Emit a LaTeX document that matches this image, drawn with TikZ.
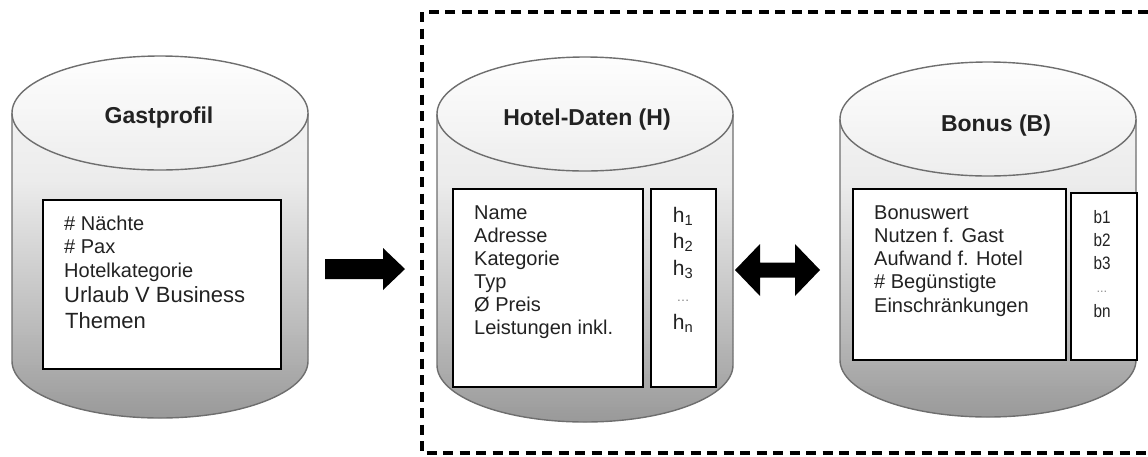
\documentclass[tikz,border=0pt]{standalone}
\usepackage{fontspec}
\setmainfont{Liberation Sans}
\usepackage{graphicx}
\definecolor{txt}{HTML}{222222}
\definecolor{cylline}{HTML}{6E6E6E}
% cylinder: #1 = centre x, #2 = centre y of top ellipse, #3 = centre y of bottom ellipse
\newcommand\dbcyl[3]{%
  \begin{scope}
    \clip (#1-148,#2) -- (#1-148,#3)
      arc[start angle=180, end angle=0, x radius=148, y radius=57]
      -- (#1+148,#2)
      arc[start angle=0, end angle=-180, x radius=148, y radius=57] -- cycle;
    \foreach \yy in {50,53,...,431} {
      \pgfmathsetmacro\cyt{max(0,min(1,(\yy-(#2-57))/(#3-#2+114)))}
      \pgfmathsetmacro\cyp{\cyt<0.34 ? 6+9*\cyt/0.34 : (\cyt<0.76 ? 15+40*(\cyt-0.34)/0.42 : 55+25*(\cyt-0.76)/0.24)}
      \fill[gray!\cyp] (#1-150,\yy) rectangle (#1+150,\yy+3.6);
    }
  \end{scope}
  \draw[cylline, line width=1.4pt] (#1-148,#2) -- (#1-148,#3)
      arc[start angle=180, end angle=0, x radius=148, y radius=57]
      -- (#1+148,#2);
  \begin{scope}
    \clip (#1,#2) ellipse[x radius=148, y radius=57];
    \foreach \yy in {0,3,...,117} {
      \pgfmathsetmacro\cyp{1+13*\yy/117}
      \fill[gray!\cyp] (#1-150,#2-58+\yy) rectangle (#1+150,#2-58+\yy+3.6);
    }
  \end{scope}
  \draw[cylline, line width=1.4pt] (#1,#2) ellipse[x radius=148, y radius=57];
}
\tikzset{
  cyltitle/.style={anchor=base, inner sep=0pt, text=txt, font=\bfseries\fontsize{23}{27}\selectfont},
  ibox/.style={draw=black, line width=1.8pt, fill=white, anchor=north west, inner sep=0pt},
  lt/.style={anchor=base west, inner sep=0pt, text=txt, font=\fontsize{20}{24}\selectfont},
  ltbig/.style={anchor=base west, inner sep=0pt, text=txt, font=\fontsize{22}{26}\selectfont},
  hval/.style={anchor=base, inner sep=0pt, text=txt, font=\fontsize{21}{25}\selectfont},
  bval/.style={anchor=base, inner sep=0pt, text=txt, font=\fontsize{18}{22}\selectfont},
  dots/.style={anchor=base, inner sep=0pt, text=gray, font=\fontsize{13}{15}\selectfont},
  dashbox/.style={draw=black, line width=3.2pt, dash pattern=on 10pt off 6.5pt},
  blockarrow/.style={fill=black}
}
\begin{document}
\begin{tikzpicture}[x=1pt, y=-1pt]
\useasboundingbox (0,0) rectangle (1148,456);
% dashed frame
\draw[dashbox] (1148,12) -- (422,12) -- (422,453) -- (1148,453);
% cylinders
\dbcyl{160}{113}{361}
\dbcyl{585}{114}{365}
\dbcyl{988}{119}{360}
% titles
\node[cyltitle] (gtitle) at (159,123) {Gastprofil};
\node[cyltitle] (htitle) at (587,125) {Hotel-Daten (H)};
\node[cyltitle] (btitle) at (996,131) {Bonus (B)};
% inner boxes
\node[ibox, minimum width=238pt, minimum height=169pt] (gbox) at (42,199) {};
\node[ibox, minimum width=190pt, minimum height=198pt] (hbox) at (452,188) {};
\node[ibox, minimum width=65pt, minimum height=198pt] (hidx) at (650,188) {};
\node[ibox, minimum width=213pt, minimum height=171pt] (bbox) at (852,188) {};
\node[ibox, minimum width=66pt, minimum height=167pt] (bidx) at (1070,192) {};
% Gastprofil text
\node[lt] (g1) at (64,230) {\# Nächte};
\node[lt] (g2) at (64,253) {\# Pax};
\node[lt] (g3) at (64,277) {Hotelkategorie};
\node[ltbig] (g4) at (64,302) {Urlaub V Business};
\node[ltbig] (g5) at (65,328) {Themen};
% Hotel text
\node[lt] (h1) at (474,219) {Name};
\node[lt] (h2) at (474,242) {Adresse};
\node[lt] (h3) at (474,265) {Kategorie};
\node[lt] (h4) at (474,288) {Typ};
\node[lt] (h5) at (474,311) {Ø Preis};
\node[lt] (h6) at (474,334) {Leistungen inkl.};
\node[hval] (hv1) at (683,222) {h\textsubscript{1}};
\node[hval] (hv2) at (683,248) {h\textsubscript{2}};
\node[hval] (hv3) at (683,275) {h\textsubscript{3}};
\node[dots] (hv4) at (683,301) {…};
\node[hval] (hv5) at (683,329) {h\textsubscript{n}};
% Bonus text
\node[lt] (b1) at (874,219) {Bonuswert};
\node[lt] (b2) at (874,242) {Nutzen f. Gast};
\node[lt] (b3) at (874,265) {Aufwand f. Hotel};
\node[lt] (b4) at (874,288) {\# Begünstigte};
\node[lt] (b5) at (874,312) {Einschränkungen};
\node[bval] (bv1) at (1102,223) {\scalebox{0.85}[1]{b1}};
\node[bval] (bv2) at (1102,246) {\scalebox{0.85}[1]{b2}};
\node[bval] (bv3) at (1102,269) {\scalebox{0.85}[1]{b3}};
\node[dots] (bv4) at (1102,292) {\scalebox{0.85}[1]{…}};
\node[bval] (bv5) at (1102,317) {\scalebox{0.85}[1]{bn}};
% block arrows
\coordinate (a1s) at (325,269);
\coordinate (a1e) at (405,269);
\fill[blockarrow] (a1s) ++(0,-10) -- ++(58,0) -- ++(0,-11) -- (a1e)
  -- ++(-22,21) -- ++(0,-11) -- ++(-58,0) -- cycle;
\coordinate (a2s) at (735,270);
\coordinate (a2e) at (820,270);
\fill[blockarrow] (a2s) -- ++(25,-26) -- ++(0,18.5) -- ++(35,0) -- ++(0,-18.5)
  -- (a2e) -- ++(-25,26) -- ++(0,-18.5) -- ++(-35,0) -- ++(0,18.5) -- cycle;
\end{tikzpicture}
\end{document}
